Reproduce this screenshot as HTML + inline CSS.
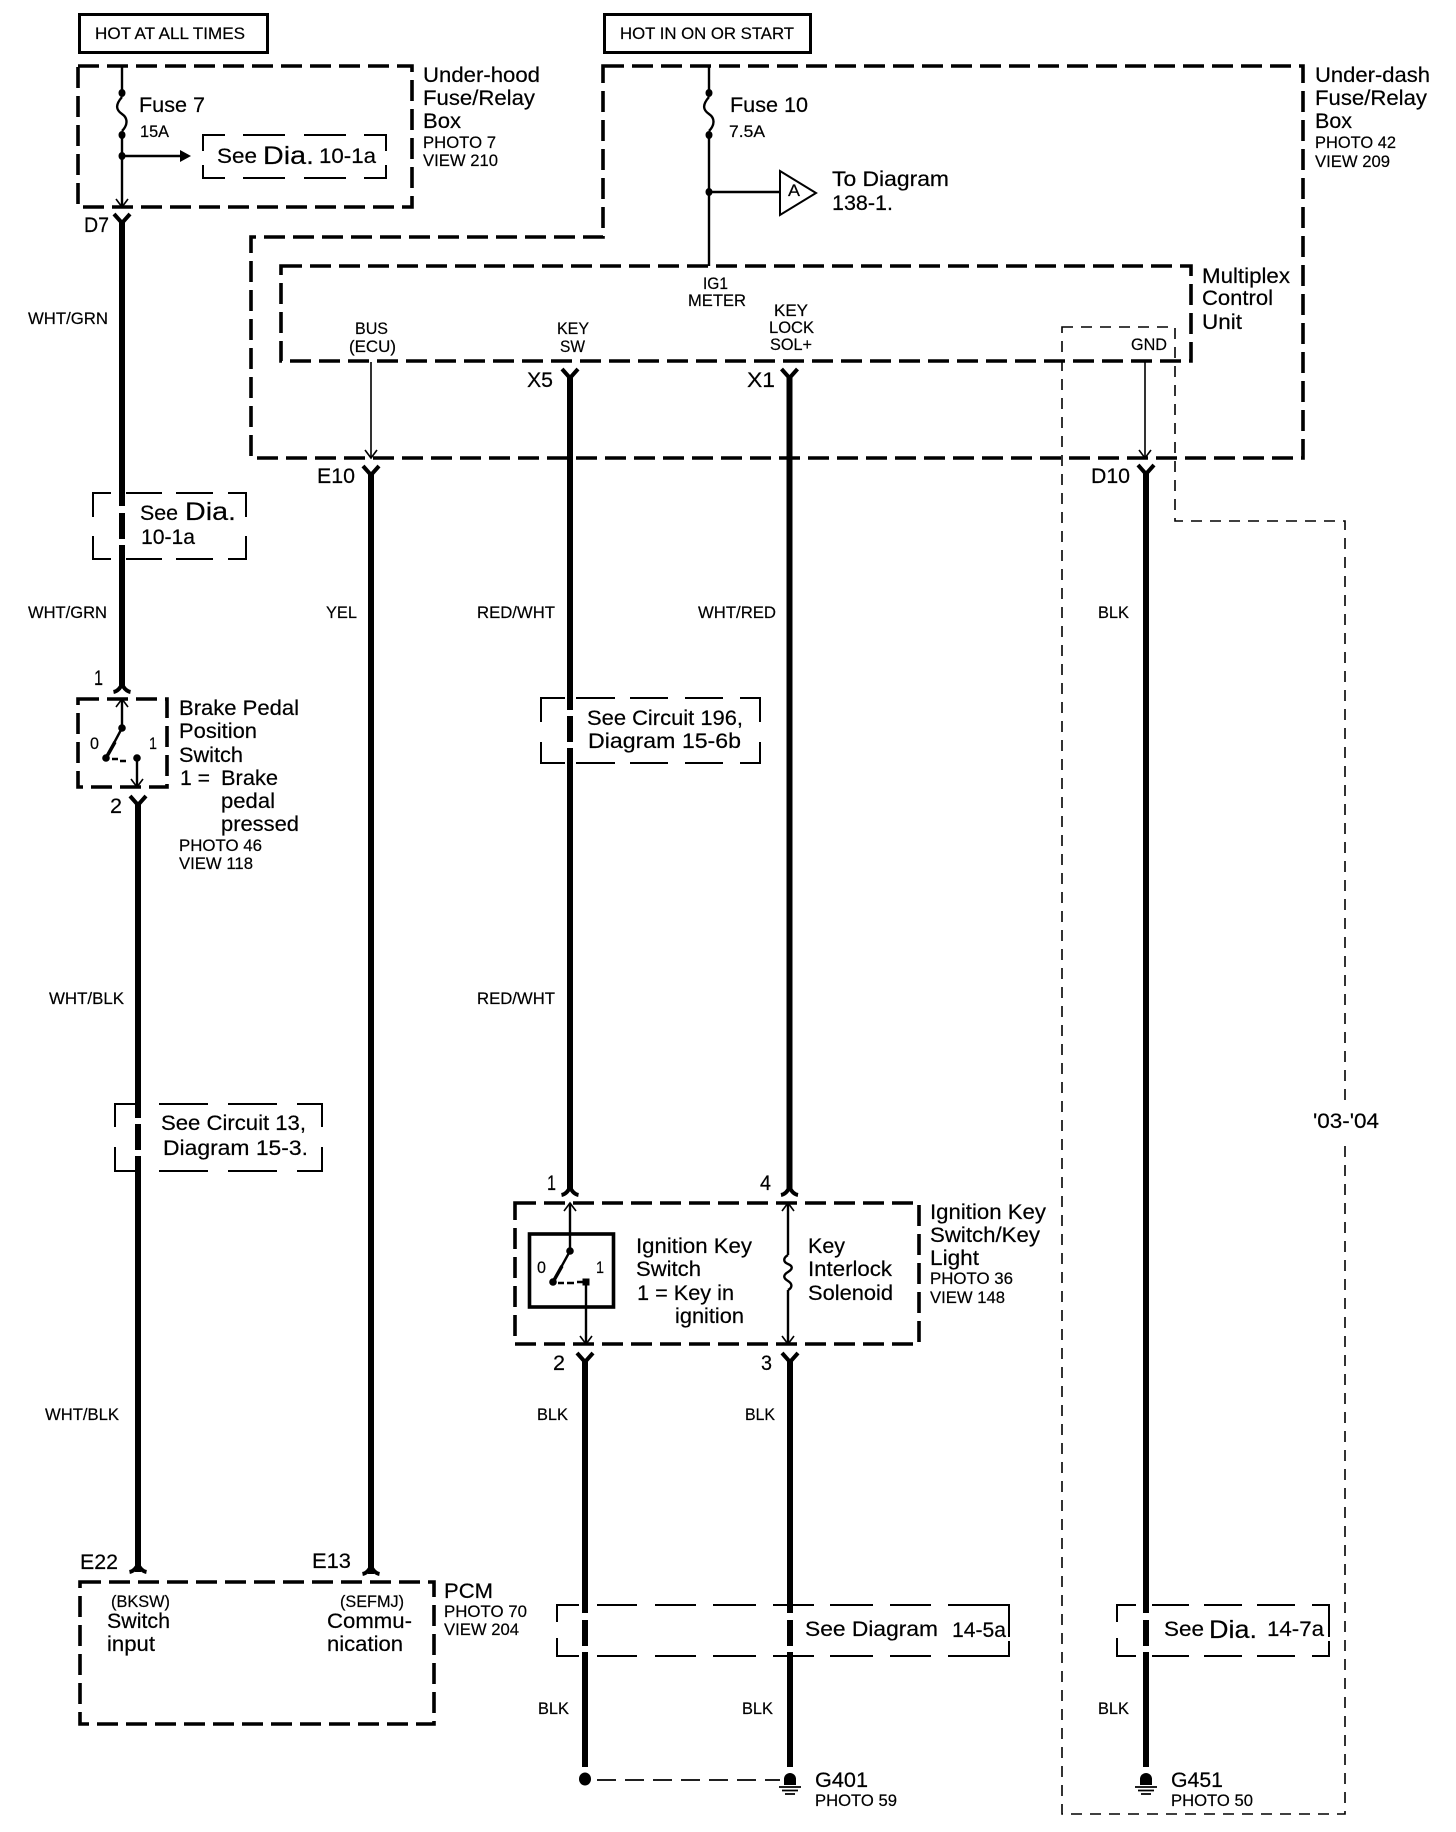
<!DOCTYPE html>
<html>
<head>
<meta charset="utf-8">
<title>Wiring diagram</title>
<style>
html,body{margin:0;padding:0;background:#fff;width:1456px;height:1832px;overflow:hidden}
svg{display:block}
text{font-family:"Liberation Sans",sans-serif;fill:#000;stroke:#000;stroke-width:.2}
.a{font-size:21px}
.b{font-size:17px}
.c{font-size:25px}
.k{fill:none;stroke:#000;stroke-width:3.6;stroke-dasharray:21 8}
.t{fill:none;stroke:#000;stroke-width:2}
.w{fill:none;stroke:#000;stroke-width:6}
.n{fill:none;stroke:#000;stroke-width:1.6}
.g{fill:none;stroke:#000;stroke-width:2.4}
.y{fill:none;stroke:#000;stroke-width:4}
.wb{stroke:#fff;stroke-width:8;fill:none}
</style>
</head>
<body>
<svg width="1456" height="1832" viewBox="0 0 1456 1832" xmlns="http://www.w3.org/2000/svg">
<defs>
<path id="dn" d="M-8 0L0 9L8 0" class="y"/>
<path id="up" d="M-8.500 8Q-3 7 0 0Q3 7 8.500 8" class="y"/>
<path id="ad" d="M-6 -8L0 0L6 -8" class="n"/>
<path id="au" d="M-6 8L0 0L6 8" class="n"/>
<g id="gnd">
<path d="M-6 12V6A6 6 0 0 1 6 6V12Z" fill="#000"/>
<path d="M-11 14H11M-8 17.500H8M-5 21H5" fill="none" stroke="#000" stroke-width="1.800"/>
</g>
</defs>
<rect width="1456" height="1832" fill="#fff"/>

<!-- header boxes -->
<rect x="79.500" y="14.500" width="188" height="38" fill="none" stroke="#000" stroke-width="3"/>
<text class="b" x="95" y="39" textLength="150" lengthAdjust="spacingAndGlyphs">HOT AT ALL TIMES</text>
<rect x="604.500" y="14.500" width="206" height="38" fill="none" stroke="#000" stroke-width="3"/>
<text class="b" x="620" y="39" textLength="174" lengthAdjust="spacingAndGlyphs">HOT IN ON OR START</text>

<!-- dashed '03-'04 region -->
<path d="M1062 327H1175V521H1345V1814H1062Z" fill="none" stroke="#000" stroke-width="1.600" stroke-dasharray="11 8"/>
<rect x="1300" y="1100" width="90" height="40" fill="#fff"/>

<!-- thick dashed boxes -->
<path class="k" d="M78 66H412V207H78Z"/>
<path class="k" d="M603 66H1303V458H251V237H603Z"/>
<path class="k" d="M281 266H1191V361H281Z"/>
<path class="k" d="M78 699H167V787H78Z"/>
<path class="k" d="M515 1203H919V1344H515Z"/>
<path class="k" d="M80 1582H434V1724H80Z"/>

<!-- thin dashed reference boxes -->
<path class="t" d="M203 151V135H225M243 135H285M304 135H346M364 135H386V151M386 165V178H364M346 178H304M285 178H243M225 178H203V165"/>
<path class="t" d="M93 517V493H111M126 493H162M176 493H213M228 493H246V517M246 536V559H228M213 559H176M162 559H126M111 559H93V536"/>
<path class="t" d="M541 722V698H565M576 698H615M630 698H668M685 698H723M740 698H760V722M760 742V763H740M723 763H685M668 763H630M615 763H576M565 763H541V742"/>
<path class="t" d="M115 1127V1104H136M159 1104H208M228 1104H277M297 1104H322V1127M322 1147V1171H297M277 1171H228M208 1171H159M136 1171H115V1147"/>
<path class="t" d="M557 1622V1605H579M597 1605H637M655 1605H696M713 1605H756M773 1605H814M830 1605H873M890 1605H931M948 1605H1009V1637M1009 1641V1656H948M931 1656H890M873 1656H830M814 1656H773M756 1656H713M696 1656H655M637 1656H597M579 1656H557V1638"/>
<path class="t" d="M1117 1622V1605H1136M1152 1605H1189M1204 1605H1242M1257 1605H1295M1312 1605H1329V1637M1329 1641V1656H1312M1295 1656H1257M1242 1656H1204M1189 1656H1152M1136 1656H1117V1638"/>

<!-- thick wires -->
<path class="w" d="M122 222V686M138 804V1572M371 474V1574M570 377V1190M789.500 377V1190M585 1361V1767M790 1361V1767M1146 473V1767"/>
<!-- wire breaks -->
<path class="wb" d="M122 506V513M122 539V545M570 710V716M570 742V748M138 1118V1124M138 1150V1156M585 1613V1620M585 1646V1652M790 1613V1620M790 1646V1652M1146 1613V1620M1146 1646V1652"/>

<!-- connectors -->
<use href="#dn" x="122" y="214"/>
<use href="#dn" x="371" y="466"/>
<use href="#dn" x="570" y="369"/>
<use href="#dn" x="789.500" y="369"/>
<use href="#dn" x="1146" y="465"/>
<use href="#dn" x="138" y="796"/>
<use href="#dn" x="585" y="1353"/>
<use href="#dn" x="790" y="1353"/>
<use href="#up" x="122" y="684"/>
<use href="#up" x="570" y="1187"/>
<use href="#up" x="789.500" y="1187"/>
<use href="#up" x="138" y="1564"/>
<use href="#up" x="371" y="1566"/>

<!-- Fuse 7 -->
<path class="g" d="M122 66V93M122 135V207"/>
<path class="g" d="M122 97C115 105 116 110 122 114C128 118 128 125 122 131"/>
<ellipse cx="122" cy="93" rx="3.500" ry="4"/>
<ellipse cx="122" cy="135" rx="3.500" ry="4"/>
<ellipse cx="122" cy="156" rx="3.500" ry="4"/>
<path class="g" d="M122 156H182"/>
<path d="M180 150L191 156L180 162Z"/>
<use href="#ad" x="122" y="207"/>

<!-- Fuse 10 -->
<path class="g" d="M709 66V93M709 135V266M709 192H780"/>
<path class="g" d="M709 97C702 105 703 110 709 114C715 118 715 125 709 131"/>
<ellipse cx="709" cy="93" rx="3.500" ry="4"/>
<ellipse cx="709" cy="135" rx="3.500" ry="4"/>
<ellipse cx="709" cy="192" rx="3.500" ry="4"/>
<path d="M780 171L816 193L780 215Z" fill="#fff" stroke="#000" stroke-width="2"/>
<text class="b" x="788" y="196" textLength="12" lengthAdjust="spacingAndGlyphs">A</text>

<!-- thin connectors -->
<path class="n" d="M371 362V458M1145 361V458"/>
<use href="#ad" x="371" y="458"/>
<use href="#ad" x="1145" y="458"/>

<!-- brake switch -->
<path class="g" d="M122 699V728M122 728L106 758M137 758V787"/>
<path d="M106 758L115 742" stroke="#000" stroke-width="3.500"/>
<path d="M112 759H118M120 761H126" stroke="#000" stroke-width="2.500"/>
<use href="#au" x="122" y="699"/>
<use href="#ad" x="137" y="787"/>
<circle cx="122" cy="728" r="3.800"/>
<circle cx="106" cy="758" r="3.800"/>
<circle cx="137" cy="758" r="3.800"/>

<!-- ignition switch -->
<rect x="529.500" y="1234" width="84" height="73" fill="none" stroke="#000" stroke-width="3.600"/>
<path class="g" d="M570 1203V1251M570 1251L553 1282M586 1282V1344"/>
<path d="M553 1282L562 1266" stroke="#000" stroke-width="3.500"/>
<path d="M558 1283H564" stroke="#000" stroke-width="2.500"/>
<path d="M567 1283H574M577 1282H583" stroke="#000" stroke-width="2.500"/>
<use href="#au" x="570" y="1203"/>
<use href="#ad" x="586" y="1344"/>
<circle cx="570" cy="1251" r="3.800"/>
<circle cx="553" cy="1282" r="3.800"/>
<rect x="582.500" y="1278.500" width="7" height="7"/>

<!-- solenoid -->
<path class="g" d="M788 1203V1255M788 1290V1344"/>
<path class="g" d="M788 1255C783 1258 783 1262 788 1264C793 1266 793 1269 788 1272C783 1275 783 1278 788 1281C793 1284 792 1288 788 1290"/>
<use href="#au" x="788" y="1203"/>
<use href="#ad" x="788" y="1344"/>

<!-- grounds -->
<ellipse cx="585" cy="1779" rx="6" ry="6.500"/>
<path d="M597 1780H780" fill="none" stroke="#000" stroke-width="1.800" stroke-dasharray="19 9"/>
<use href="#gnd" x="790" y="1773"/>
<use href="#gnd" x="1146" y="1773"/>

<!-- under-hood labels -->
<text class="a" x="423" y="82" textLength="117" lengthAdjust="spacingAndGlyphs">Under-hood</text>
<text class="a" x="423" y="105" textLength="112" lengthAdjust="spacingAndGlyphs">Fuse/Relay</text>
<text class="a" x="423" y="128" textLength="38" lengthAdjust="spacingAndGlyphs">Box</text>
<text class="b" x="423" y="148" textLength="73" lengthAdjust="spacingAndGlyphs">PHOTO 7</text>
<text class="b" x="423" y="166" textLength="75" lengthAdjust="spacingAndGlyphs">VIEW 210</text>
<text class="a" x="139" y="112" textLength="66" lengthAdjust="spacingAndGlyphs">Fuse 7</text>
<text class="b" x="140" y="137" textLength="29" lengthAdjust="spacingAndGlyphs">15A</text>
<text class="a" x="217" y="163" textLength="40" lengthAdjust="spacingAndGlyphs">See</text>
<text class="c" x="263" y="164" textLength="51" lengthAdjust="spacingAndGlyphs">Dia.</text>
<text class="a" x="319" y="163" textLength="57" lengthAdjust="spacingAndGlyphs">10-1a</text>
<text class="a" x="84" y="232" textLength="25" lengthAdjust="spacingAndGlyphs">D7</text>

<!-- under-dash labels -->
<text class="a" x="730" y="112" textLength="78" lengthAdjust="spacingAndGlyphs">Fuse 10</text>
<text class="b" x="729" y="137" textLength="36" lengthAdjust="spacingAndGlyphs">7.5A</text>
<text class="a" x="832" y="186" textLength="117" lengthAdjust="spacingAndGlyphs">To Diagram</text>
<text class="a" x="832" y="210" textLength="61" lengthAdjust="spacingAndGlyphs">138-1.</text>
<text class="a" x="1315" y="82" textLength="115" lengthAdjust="spacingAndGlyphs">Under-dash</text>
<text class="a" x="1315" y="105" textLength="112" lengthAdjust="spacingAndGlyphs">Fuse/Relay</text>
<text class="a" x="1315" y="128" textLength="37" lengthAdjust="spacingAndGlyphs">Box</text>
<text class="b" x="1315" y="148" textLength="81" lengthAdjust="spacingAndGlyphs">PHOTO 42</text>
<text class="b" x="1315" y="167" textLength="75" lengthAdjust="spacingAndGlyphs">VIEW 209</text>
<text class="a" x="1202" y="283" textLength="88" lengthAdjust="spacingAndGlyphs">Multiplex</text>
<text class="a" x="1202" y="305" textLength="71" lengthAdjust="spacingAndGlyphs">Control</text>
<text class="a" x="1202" y="329" textLength="40" lengthAdjust="spacingAndGlyphs">Unit</text>

<!-- MCU pin labels -->
<text class="b" x="355" y="334" textLength="33" lengthAdjust="spacingAndGlyphs">BUS</text>
<text class="b" x="349" y="352" textLength="47" lengthAdjust="spacingAndGlyphs">(ECU)</text>
<text class="b" x="557" y="334" textLength="32" lengthAdjust="spacingAndGlyphs">KEY</text>
<text class="b" x="560" y="352" textLength="25" lengthAdjust="spacingAndGlyphs">SW</text>
<text class="b" x="703" y="289" textLength="25" lengthAdjust="spacingAndGlyphs">IG1</text>
<text class="b" x="688" y="306" textLength="58" lengthAdjust="spacingAndGlyphs">METER</text>
<text class="b" x="774" y="316" textLength="34" lengthAdjust="spacingAndGlyphs">KEY</text>
<text class="b" x="769" y="333" textLength="45" lengthAdjust="spacingAndGlyphs">LOCK</text>
<text class="b" x="770" y="350" textLength="42" lengthAdjust="spacingAndGlyphs">SOL+</text>
<text class="b" x="1131" y="350" textLength="36" lengthAdjust="spacingAndGlyphs">GND</text>
<text class="a" x="527" y="387" textLength="26" lengthAdjust="spacingAndGlyphs">X5</text>
<text class="a" x="747" y="387" textLength="28" lengthAdjust="spacingAndGlyphs">X1</text>
<text class="a" x="317" y="483" textLength="38" lengthAdjust="spacingAndGlyphs">E10</text>
<text class="a" x="1091" y="483" textLength="39" lengthAdjust="spacingAndGlyphs">D10</text>

<!-- wire colours -->
<text class="b" x="28" y="324" textLength="80" lengthAdjust="spacingAndGlyphs">WHT/GRN</text>
<text class="b" x="28" y="618" textLength="79" lengthAdjust="spacingAndGlyphs">WHT/GRN</text>
<text class="b" x="326" y="618" textLength="31" lengthAdjust="spacingAndGlyphs">YEL</text>
<text class="b" x="477" y="618" textLength="78" lengthAdjust="spacingAndGlyphs">RED/WHT</text>
<text class="b" x="698" y="618" textLength="78" lengthAdjust="spacingAndGlyphs">WHT/RED</text>
<text class="b" x="1098" y="618" textLength="31" lengthAdjust="spacingAndGlyphs">BLK</text>
<text class="b" x="49" y="1004" textLength="75" lengthAdjust="spacingAndGlyphs">WHT/BLK</text>
<text class="b" x="477" y="1004" textLength="78" lengthAdjust="spacingAndGlyphs">RED/WHT</text>
<text class="b" x="45" y="1420" textLength="74" lengthAdjust="spacingAndGlyphs">WHT/BLK</text>
<text class="b" x="537" y="1420" textLength="31" lengthAdjust="spacingAndGlyphs">BLK</text>
<text class="b" x="745" y="1420" textLength="30" lengthAdjust="spacingAndGlyphs">BLK</text>
<text class="b" x="538" y="1714" textLength="31" lengthAdjust="spacingAndGlyphs">BLK</text>
<text class="b" x="742" y="1714" textLength="31" lengthAdjust="spacingAndGlyphs">BLK</text>
<text class="b" x="1098" y="1714" textLength="31" lengthAdjust="spacingAndGlyphs">BLK</text>

<!-- reference text -->
<text class="a" x="140" y="520" textLength="38" lengthAdjust="spacingAndGlyphs">See</text>
<text class="c" x="185" y="520" textLength="51" lengthAdjust="spacingAndGlyphs">Dia.</text>
<text class="a" x="141" y="544" textLength="54" lengthAdjust="spacingAndGlyphs">10-1a</text>
<text class="a" x="587" y="725" textLength="156" lengthAdjust="spacingAndGlyphs">See Circuit 196,</text>
<text class="a" x="588" y="748" textLength="153" lengthAdjust="spacingAndGlyphs">Diagram 15-6b</text>
<text class="a" x="161" y="1130" textLength="145" lengthAdjust="spacingAndGlyphs">See Circuit 13,</text>
<text class="a" x="163" y="1155" textLength="145" lengthAdjust="spacingAndGlyphs">Diagram 15-3.</text>
<text class="a" x="805" y="1636" textLength="133" lengthAdjust="spacingAndGlyphs">See Diagram</text>
<text class="a" x="952" y="1637" textLength="54" lengthAdjust="spacingAndGlyphs">14-5a</text>
<text class="a" x="1164" y="1636" textLength="40" lengthAdjust="spacingAndGlyphs">See</text>
<text class="c" x="1209" y="1638" textLength="48" lengthAdjust="spacingAndGlyphs">Dia.</text>
<text class="a" x="1267" y="1636" textLength="57" lengthAdjust="spacingAndGlyphs">14-7a</text>
<text class="a" x="1313" y="1128" textLength="66" lengthAdjust="spacingAndGlyphs">'03-'04</text>

<!-- brake labels -->
<text class="a" x="94" y="685" textLength="9" lengthAdjust="spacingAndGlyphs">1</text>
<text class="a" x="110" y="813" textLength="12" lengthAdjust="spacingAndGlyphs">2</text>
<text class="b" x="90" y="749" textLength="9" lengthAdjust="spacingAndGlyphs">0</text>
<text class="b" x="149" y="749" textLength="8" lengthAdjust="spacingAndGlyphs">1</text>
<text class="a" x="179" y="715" textLength="120" lengthAdjust="spacingAndGlyphs">Brake Pedal</text>
<text class="a" x="179" y="738" textLength="78" lengthAdjust="spacingAndGlyphs">Position</text>
<text class="a" x="179" y="762" textLength="64" lengthAdjust="spacingAndGlyphs">Switch</text>
<text class="a" x="180" y="785" textLength="30" lengthAdjust="spacingAndGlyphs">1 =</text>
<text class="a" x="221" y="785" textLength="57" lengthAdjust="spacingAndGlyphs">Brake</text>
<text class="a" x="221" y="808" textLength="54" lengthAdjust="spacingAndGlyphs">pedal</text>
<text class="a" x="221" y="831" textLength="78" lengthAdjust="spacingAndGlyphs">pressed</text>
<text class="b" x="179" y="851" textLength="83" lengthAdjust="spacingAndGlyphs">PHOTO 46</text>
<text class="b" x="179" y="869" textLength="74" lengthAdjust="spacingAndGlyphs">VIEW 118</text>

<!-- ignition labels -->
<text class="a" x="547" y="1190" textLength="9" lengthAdjust="spacingAndGlyphs">1</text>
<text class="a" x="760" y="1190" textLength="11" lengthAdjust="spacingAndGlyphs">4</text>
<text class="a" x="553" y="1370" textLength="12" lengthAdjust="spacingAndGlyphs">2</text>
<text class="a" x="761" y="1370" textLength="11" lengthAdjust="spacingAndGlyphs">3</text>
<text class="b" x="537" y="1273" textLength="9" lengthAdjust="spacingAndGlyphs">0</text>
<text class="b" x="596" y="1273" textLength="8" lengthAdjust="spacingAndGlyphs">1</text>
<text class="a" x="636" y="1253" textLength="116" lengthAdjust="spacingAndGlyphs">Ignition Key</text>
<text class="a" x="636" y="1276" textLength="65" lengthAdjust="spacingAndGlyphs">Switch</text>
<text class="a" x="637" y="1300" textLength="97" lengthAdjust="spacingAndGlyphs">1 = Key in</text>
<text class="a" x="675" y="1323" textLength="69" lengthAdjust="spacingAndGlyphs">ignition</text>
<text class="a" x="808" y="1253" textLength="37" lengthAdjust="spacingAndGlyphs">Key</text>
<text class="a" x="808" y="1276" textLength="84" lengthAdjust="spacingAndGlyphs">Interlock</text>
<text class="a" x="808" y="1300" textLength="85" lengthAdjust="spacingAndGlyphs">Solenoid</text>
<text class="a" x="930" y="1219" textLength="116" lengthAdjust="spacingAndGlyphs">Ignition Key</text>
<text class="a" x="930" y="1242" textLength="110" lengthAdjust="spacingAndGlyphs">Switch/Key</text>
<text class="a" x="930" y="1265" textLength="49" lengthAdjust="spacingAndGlyphs">Light</text>
<text class="b" x="930" y="1284" textLength="83" lengthAdjust="spacingAndGlyphs">PHOTO 36</text>
<text class="b" x="930" y="1303" textLength="75" lengthAdjust="spacingAndGlyphs">VIEW 148</text>

<!-- PCM labels -->
<text class="a" x="80" y="1569" textLength="38" lengthAdjust="spacingAndGlyphs">E22</text>
<text class="a" x="312" y="1568" textLength="39" lengthAdjust="spacingAndGlyphs">E13</text>
<text class="a" x="444" y="1598" textLength="49" lengthAdjust="spacingAndGlyphs">PCM</text>
<text class="b" x="444" y="1617" textLength="83" lengthAdjust="spacingAndGlyphs">PHOTO 70</text>
<text class="b" x="444" y="1635" textLength="75" lengthAdjust="spacingAndGlyphs">VIEW 204</text>
<text class="b" x="111" y="1607" textLength="59" lengthAdjust="spacingAndGlyphs">(BKSW)</text>
<text class="a" x="107" y="1628" textLength="63" lengthAdjust="spacingAndGlyphs">Switch</text>
<text class="a" x="107" y="1651" textLength="48" lengthAdjust="spacingAndGlyphs">input</text>
<text class="b" x="340" y="1607" textLength="64" lengthAdjust="spacingAndGlyphs">(SEFMJ)</text>
<text class="a" x="327" y="1628" textLength="85" lengthAdjust="spacingAndGlyphs">Commu-</text>
<text class="a" x="327" y="1651" textLength="76" lengthAdjust="spacingAndGlyphs">nication</text>

<!-- ground labels -->
<text class="a" x="815" y="1787" textLength="53" lengthAdjust="spacingAndGlyphs">G401</text>
<text class="b" x="815" y="1806" textLength="82" lengthAdjust="spacingAndGlyphs">PHOTO 59</text>
<text class="a" x="1171" y="1787" textLength="52" lengthAdjust="spacingAndGlyphs">G451</text>
<text class="b" x="1171" y="1806" textLength="82" lengthAdjust="spacingAndGlyphs">PHOTO 50</text>
</svg>
</body>
</html>
